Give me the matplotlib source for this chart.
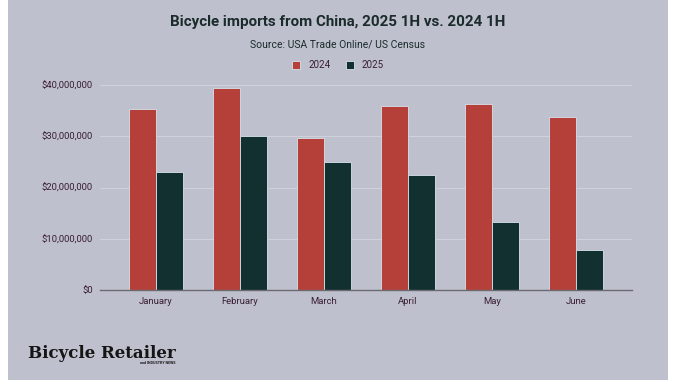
import matplotlib.pyplot as plt
from matplotlib.patches import Rectangle
from matplotlib.ticker import FuncFormatter
import numpy as np

plt.rcParams['font.family'] = ['Roboto', 'DejaVu Sans']

months = ["January", "February", "March", "April", "May", "June"]
imports_2024 = [35.3, 39.4, 29.7, 35.9, 36.3, 33.8]  # millions USD
imports_2025 = [23.0, 30.0, 25.0, 22.4, 13.3, 7.8]

bg = "#bec1cd"
red = "#b5403a"
dark = "#12302f"
txt = "#1b2a2a"
tick_col = "#3a1f33"

fig = plt.figure(figsize=(6.76, 3.80), dpi=100)
fig.patch.set_facecolor("white")
fig.patches.append(Rectangle((8 / 676, 0), 660 / 676, 1, transform=fig.transFigure,
                             facecolor=bg, edgecolor="none", zorder=-5))

ax = fig.add_axes([100 / 676, 90 / 380, 532 / 676, 205 / 380])
ax.set_zorder(2)
ax.patch.set_alpha(0)

x = np.arange(len(months))
w = 0.32
ax.bar(x - w / 2, np.array(imports_2024) * 1e6, w, color=red, edgecolor="#d8e2ea",
       linewidth=0.6, label="2024", zorder=3)
ax.bar(x + w / 2, np.array(imports_2025) * 1e6, w, color=dark, edgecolor="#d8e2ea",
       linewidth=0.6, label="2025", zorder=3)

ax.set_xlim(-0.5 - 14 / 84, 5.5 + 14 / 84)
ax.set_ylim(0, 40e6)
ax.set_yticks([0, 10e6, 20e6, 30e6, 40e6])
ax.yaxis.set_major_formatter(FuncFormatter(lambda v, p: "${:,.0f}".format(v)))
ax.set_xticks(x)
ax.set_xticklabels(months)
ax.grid(axis="y", color="#d0d3db", linewidth=0.7, zorder=0)
for s in ["top", "right", "left"]:
    ax.spines[s].set_visible(False)
ax.spines["bottom"].set_color("#6a6a70")
ax.spines["bottom"].set_linewidth(1.0)
ax.spines["bottom"].set_zorder(4)
ax.tick_params(axis="y", length=0, pad=5, labelsize=6.8, labelcolor=tick_col)
ax.tick_params(axis="x", length=0, pad=5, labelsize=6.8, labelcolor=tick_col)

fig.text(0.5, 1 - 22 / 380, "Bicycle imports from China, 2025 1H vs. 2024 1H",
         ha="center", va="center", fontsize=10.9, fontweight="bold", color=txt)
fig.text(0.5, 1 - 45 / 380, "Source: USA Trade Online/ US Census",
         ha="center", va="center", fontsize=7.5, color=txt)

leg = fig.legend(loc="center", bbox_to_anchor=(0.5, 1 - 65 / 380), ncol=2,
                 frameon=False, fontsize=7, handlelength=0.85, handleheight=0.85,
                 columnspacing=1.6, handletextpad=0.8)
for t in leg.get_texts():
    t.set_color(tick_col)

fig.text(28 / 676, 1 - 353 / 380, "Bicycle Retailer", ha="left", va="center",
         fontsize=12, fontweight="bold", color="#151515", family="DejaVu Serif")
fig.text(176 / 676, 1 - 363 / 380, "and INDUSTRY NEWS", ha="right", va="center",
         fontsize=2.6, fontweight="bold", color="#151515")

fig.savefig("out.png", dpi=100, facecolor=fig.get_facecolor())
